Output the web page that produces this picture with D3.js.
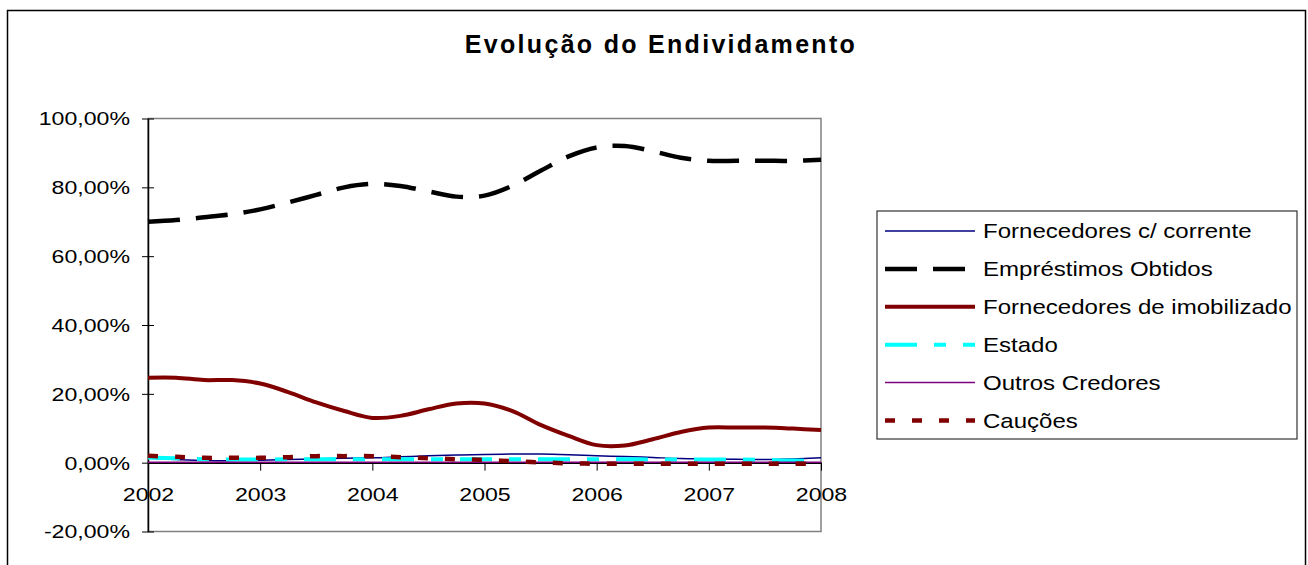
<!DOCTYPE html>
<html>
<head>
<meta charset="utf-8">
<script src="https://cdn.jsdelivr.net/npm/d3@7"></script>
<style>
  body { margin: 0; background: #fff; }
  text { font-family: 'Liberation Sans', Arial, sans-serif; fill: #000; }
</style>
</head>
<body>
<div id="chartContainer"></div>
<script>
// quarterly points, only the year is labelled on the axis
var periods = ['2002T1', '2002T2', '2002T3', '2002T4',
               '2003T1', '2003T2', '2003T3', '2003T4',
               '2004T1', '2004T2', '2004T3', '2004T4',
               '2005T1', '2005T2', '2005T3', '2005T4',
               '2006T1', '2006T2', '2006T3', '2006T4',
               '2007T1', '2007T2', '2007T3', '2007T4',
               '2008T1'],
    yearLabels = ['2002', '2003', '2004', '2005', '2006', '2007', '2008'],
    yTicks = [-20, 0, 20, 40, 60, 80, 100];

var seriesNames = ['Fornecedores c/ corrente', 'Empréstimos Obtidos',
    'Fornecedores de imobilizado', 'Estado', 'Outros Credores', 'Cauções'];

var fornecedoresCC = [1.3, 0.9, 0.6, 0.6, 0.7, 0.9, 1.1, 1.3, 1.4, 1.7, 2.0, 2.2,
        2.4, 2.5, 2.5, 2.3, 2.0, 1.8, 1.5, 1.2, 1.1, 1.0, 0.9, 1.1, 1.4],
    emprestimos = [70.0, 70.5, 71.3, 72.2, 73.6, 75.6, 77.8, 80.0, 81.0, 80.4, 78.8, 77.3,
        77.6, 80.5, 84.8, 89.0, 91.6, 92.0, 90.5, 88.6, 87.7, 87.7, 87.7, 87.7, 88.0],
    fornecedoresImob = [24.7, 24.7, 24.0, 24.0, 23.0, 20.5, 17.5, 15.0, 13.0, 13.6, 15.5, 17.2,
        17.2, 15.0, 11.0, 7.8, 5.1, 5.0, 6.8, 8.9, 10.2, 10.2, 10.2, 9.9, 9.5],
    estado = [1.5, 1.3, 1.0, 0.9, 0.9, 1.0, 1.0, 1.0, 1.0, 1.0, 1.0, 1.0,
        1.0, 1.0, 1.0, 1.0, 1.0, 1.0, 0.9, 0.9, 0.9, 0.9, 0.8, 0.6, 0.6],
    outrosCredores = [0.1, 0.1, 0.1, 0.1, 0.1, 0.1, 0.1, 0.1, 0.1, 0.1, 0.1, 0.1,
        0.1, 0.1, 0.1, 0.1, 0.1, 0.1, 0.1, 0.1, 0.1, 0.1, 0.1, 0.1, 0.1],
    caucoes = [2.0, 1.7, 1.4, 1.4, 1.4, 1.6, 1.9, 1.9, 1.9, 1.6, 1.3, 1.0,
        0.8, 0.4, 0.1, -0.2, -0.3, -0.3, -0.3, -0.3, -0.3, -0.3, -0.3, -0.3, -0.3];

var seriesValues = [fornecedoresCC, emprestimos, fornecedoresImob, estado, outrosCredores, caucoes];

var styles = [
    { color: '#000080', width: 1.5, dash: null },
    { color: '#000000', width: 4.5, dash: '32,16' },
    { color: '#800000', width: 4, dash: null },
    { color: '#00ffff', width: 4, dash: '32,17,12,17' },
    { color: '#800080', width: 1.5, dash: null },
    { color: '#800000', width: 4.5, dash: '10,17' }
];

var width = 1308,
    height = 565,
    pLeft = 148, pRight = 821, pTop = 118.5, pBottom = 531.5,
    svg = d3.select('#chartContainer').append('svg')
        .attr('width', width)
        .attr('height', height),
    x = d3.scalePoint().domain(periods).range([pLeft, pRight]),
    y = d3.scaleLinear().domain([-20, 100]).range([pBottom, pTop]),
    fmt = function (d) { return d.toFixed(2).replace('.', ',') + '%'; };

// chart frame
svg.append('rect')
    .attr('x', 7.5).attr('y', 10.5)
    .attr('width', 1298).attr('height', 570)
    .style('fill', 'none')
    .style('stroke', '#000')
    .style('stroke-width', 1.5);

svg.append('text')
    .attr('x', 661).attr('y', 53)
    .attr('text-anchor', 'middle')
    .style('font-size', '25px')
    .style('font-weight', 'bold')
    .style('letter-spacing', '2.3px')
    .text('Evolução do Endividamento');

// plot area border
svg.append('rect')
    .attr('x', pLeft).attr('y', pTop)
    .attr('width', pRight - pLeft).attr('height', pBottom - pTop)
    .style('fill', 'none')
    .style('stroke', '#808080')
    .style('stroke-width', 1.5);

var yAxis = svg.append('g')
    .attr('transform', 'translate(' + pLeft + ',0)')
    .call(d3.axisLeft(y).tickValues(yTicks).tickFormat(fmt).tickSizeOuter(0));
yAxis.select('.domain').style('stroke', '#000').style('stroke-width', 1.5);
yAxis.selectAll('.tick line').attr('x1', 6).attr('x2', -6).style('stroke', '#000');
yAxis.selectAll('.tick text')
    .attr('x', -18 / 1.25)
    .attr('dy', '0.35em')
    .attr('transform', 'scale(1.25,1)')
    .style('font-size', '18.5px')
    .style('font-family', "'Liberation Sans', Arial, sans-serif")
    .style('fill', '#000');

var xAxis = svg.append('g')
    .attr('transform', 'translate(0,' + y(0) + ')')
    .call(d3.axisBottom(x)
        .tickValues(periods.filter(function (p, i) { return i % 4 === 0; }))
        .tickFormat(function (p, i) { return yearLabels[i]; })
        .tickSize(8).tickSizeOuter(0));
xAxis.select('.domain').style('stroke', '#000').style('stroke-width', 1.5);
xAxis.selectAll('.tick line').style('stroke', '#000');
xAxis.selectAll('.tick text')
    .attr('y', 38)
    .attr('dy', 0)
    .attr('transform', 'scale(1.25,1)')
    .style('font-size', '18.5px')
    .style('font-family', "'Liberation Sans', Arial, sans-serif")
    .style('fill', '#000');

var line = d3.line()
    .x(function (d, i) { return x(periods[i]); })
    .y(function (d) { return y(d); })
    .curve(d3.curveCardinal.tension(0));

seriesValues.forEach(function (vals, s) {
    svg.append('path')
        .attr('d', line(vals))
        .style('fill', 'none')
        .style('stroke', styles[s].color)
        .style('stroke-width', styles[s].width)
        .style('stroke-dasharray', styles[s].dash);
});

// legend
var legend = svg.append('g');
legend.append('rect')
    .attr('x', 877).attr('y', 211)
    .attr('width', 420).attr('height', 228)
    .style('fill', '#fff')
    .style('stroke', '#333')
    .style('stroke-width', 1.2);

seriesNames.forEach(function (name, i) {
    var ly = 231 + i * 37.9;
    legend.append('line')
        .attr('x1', 885).attr('x2', 975)
        .attr('y1', ly).attr('y2', ly)
        .style('stroke', styles[i].color)
        .style('stroke-width', styles[i].width)
        .style('stroke-dasharray', styles[i].dash);
    legend.append('text')
        .attr('transform', 'translate(983,' + (ly + 7) + ') scale(1.145,1)')
        .style('font-size', '21px')
        .text(name);
});
</script>
</body>
</html>
